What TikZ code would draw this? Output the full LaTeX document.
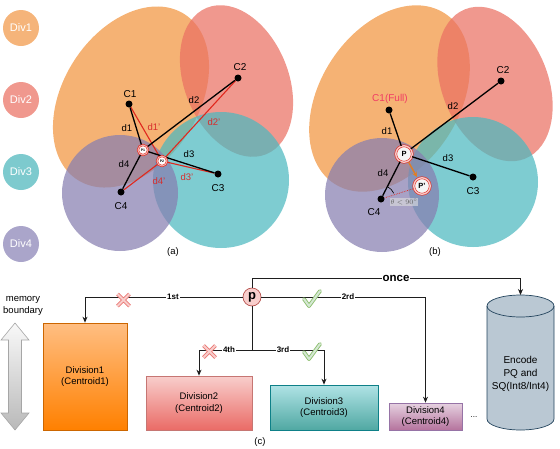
\documentclass[tikz,border=0pt]{standalone}
\usepackage{fontspec}
\setmainfont{Liberation Sans}
\usetikzlibrary{arrows.meta,calc}
\definecolor{orA}{RGB}{241,148,62}
\definecolor{rdA}{RGB}{234,112,98}
\definecolor{tlA}{RGB}{76,184,191}
\definecolor{puA}{RGB}{134,126,176}
\definecolor{leg1}{RGB}{245,180,122}
\definecolor{leg2}{RGB}{240,152,142}
\definecolor{leg3}{RGB}{125,202,206}
\definecolor{leg4}{RGB}{170,165,202}
\definecolor{lred}{RGB}{224,40,30}
\definecolor{lblred}{RGB}{215,45,45}
\definecolor{fullred}{RGB}{240,60,100}
\definecolor{porange}{RGB}{225,125,35}
\definecolor{pfill}{RGB}{248,206,204}
\definecolor{pdraw}{RGB}{184,84,80}
\definecolor{xfill}{RGB}{248,206,204}
\definecolor{xdraw}{RGB}{234,120,116}
\definecolor{vfill}{RGB}{213,232,212}
\definecolor{vdraw}{RGB}{140,190,110}
\definecolor{cylfill}{RGB}{186,200,211}
\definecolor{cyldraw}{RGB}{35,68,93}
\definecolor{conn}{RGB}{30,30,30}
\begin{document}
\begin{tikzpicture}[x=1pt,y=-1pt,
  blob/.style={fill opacity=0.72},
  dot/.style={circle,fill=black,inner sep=0pt,minimum size=7pt},
  lbl/.style={inner sep=0pt,font=\fontsize{9.5}{10}\selectfont},
  clbl/.style={inner sep=0pt,font=\fontsize{10}{11}\selectfont},
  rlbl/.style={lbl,text=lblred},
  leg/.style={circle,inner sep=0pt,minimum size=36pt,text=white,font=\fontsize{11}{12}\selectfont},
  blk/.style={line width=1.3pt,draw=black},
  redl/.style={line width=1.1pt,draw=lred},
  pmark/.style={circle,draw=lred,line width=0.5pt,double=white!65!lred,double distance=1pt,fill=white,inner sep=0pt,minimum size=10pt,font=\fontsize{3.5}{3.5}\selectfont\bfseries},
  pbig/.style={circle,draw=lred,line width=0.6pt,double=white!75!lred,double distance=1.4pt,fill=gray!8,inner sep=0pt,minimum size=16.5pt,font=\fontsize{7.5}{7.5}\selectfont\bfseries},
  conline/.style={draw=conn,line width=0.8pt},
  arr/.style={conline,-{Stealth[length=6pt,width=5pt]}},
  elab/.style={fill=white,inner sep=1pt,font=\fontsize{8}{9}\selectfont\bfseries},
  divbox/.style={draw,align=center,inner sep=1pt,font=\fontsize{9.5}{11.5}\selectfont,line width=0.7pt},
  xmark/.style={line width=3.8pt,draw=xdraw},
  xin/.style={line width=2pt,draw=xfill},
  vmark/.style={line width=3.8pt,draw=vdraw,line join=round,line cap=round},
  vin/.style={line width=2pt,draw=vfill,line join=round,line cap=round}
]
\useasboundingbox (0,0) rectangle (560,448);

% legend
\node[leg,fill=leg1] (leg1n) at (21,28) {Div1};
\node[leg,fill=leg2] (leg2n) at (21,100) {Div2};
\node[leg,fill=leg3] (leg3n) at (21,172) {Div3};
\node[leg,fill=leg4] (leg4n) at (21,244) {Div4};

% ---------- panel (a) ----------
\fill[orA,blob,rotate around={57:(131,97)}] (131,97) ellipse [x radius=98.6,y radius=67.5];
\fill[rdA,blob,rotate around={112:(236.5,81)}] (236.5,81) ellipse [x radius=79,y radius=52];
\fill[tlA,blob] (221,180) circle [radius=68];
\fill[puA,blob] (120,193) circle [radius=58];

\node[dot] (c1a) at (129,104) {};
\node[dot] (c2a) at (238,78) {};
\node[dot] (c3a) at (218,174) {};
\node[dot] (c4a) at (121,192) {};
\node[pmark] (p1a) at (143,150) {P1};
\node[pmark] (p2a) at (162,161) {P2};

\draw[redl] (c1a) -- (p2a);
\draw[redl] (p2a) -- (c2a);
\draw[redl] (p2a) -- (c3a);
\draw[redl] (p2a) -- (c4a);
\draw[blk] (c1a) -- (p1a);
\draw[blk] (p1a) -- (c2a);
\draw[blk] (p1a) -- (c3a);
\draw[blk] (p1a) -- (c4a);
\node[pmark] at (p1a) {P1};
\node[pmark] at (p2a) {P2};

\node[clbl] (c1al) at (130,94) {C1};
\node[clbl] (c2al) at (240,67) {C2};
\node[clbl] (c3al) at (218,188) {C3};
\node[clbl] (c4al) at (121,206) {C4};
\node[lbl] (d1a) at (127,128) {d1};
\node[lbl] (d2a) at (194,100) {d2};
\node[lbl] (d3a) at (189,154) {d3};
\node[lbl] (d4a) at (124,164) {d4};
\node[rlbl] (d1pa) at (154,127) {d1'};
\node[rlbl] (d2pa) at (214,122) {d2'};
\node[rlbl] (d3pa) at (187,177) {d3'};
\node[rlbl] (d4pa) at (159,181) {d4'};
\node[lbl] (capa) at (173,252) {(a)};

% ---------- panel (b) ----------
\fill[orA,blob,rotate around={57:(389.5,98.5)}] (389.5,98.5) ellipse [x radius=101.5,y radius=69.5];
\fill[rdA,blob,rotate around={112:(495,84)}] (495,84) ellipse [x radius=80.5,y radius=53];
\fill[tlA,blob] (473,182) circle [radius=65];
\fill[puA,blob] (382,195) circle [radius=57];

\node[dot] (c1b) at (389,110) {};
\node[dot] (c2b) at (501,81) {};
\node[dot] (c3b) at (473,177) {};
\node[dot] (c4b) at (381,199) {};
\node[pbig] (pb) at (404,154) {P};
\node[pbig] (ppb) at (422,186) {P'};

\draw[blk] (c1b) -- (pb);
\draw[blk] (pb) -- (c2b);
\draw[blk] (pb) -- (c3b);
\draw[blk] (pb) -- (c4b);
\draw[lred,densely dotted,line width=0.7pt] (c4b) -- (ppb);
\draw[line width=0.6pt] ($(c4b)+(-63:14)$) arc [start angle=-63,end angle=-24,radius=14];
\draw[porange,line width=1.4pt,-{Stealth[length=5pt,width=5pt]}] ($(pb)!9.5pt!(ppb)$) -- ($(ppb)!10.5pt!(pb)$);

\node[clbl,text=fullred] (c1bl) at (390,99) {C1(Full)};
\node[clbl] (c2bl) at (503,70) {C2};
\node[clbl] (c3bl) at (473,191) {C3};
\node[clbl] (c4bl) at (374,212) {C4};
\node[lbl] (d1b) at (387,131) {d1};
\node[lbl] (d2b) at (453,106) {d2};
\node[lbl] (d3b) at (448,158) {d3};
\node[lbl] (d4b) at (383,173) {d4};
\node[fill=gray!25,fill opacity=0.6,text opacity=1,text=gray!75!black,inner sep=1pt,font=\fontsize{7}{7}\selectfont] (theta) at (404,202) {$\theta<90^\circ$};
\node[lbl] (capb) at (435,252) {(b)};

% ---------- panel (c) ----------
\node[font=\fontsize{9.5}{12}\selectfont,align=center,inner sep=0pt] (mem) at (23,306) {memory\\boundary};
\shade[top color=gray!5,bottom color=gray!55,draw=gray!70,line width=0.6pt]
  (15,323) -- (29,340) -- (21.5,340) -- (21.5,413) -- (29,413) -- (15,430) -- (1,413) -- (8.5,413) -- (8.5,340) -- (1,340) -- cycle;

\node[divbox,draw=orange!80!black,top color={rgb,255:red,255;green,190;blue,130},bottom color={rgb,255:red,255;green,128;blue,0},minimum width=84pt,minimum height=107pt] (div1) at (85,376.5) {Division1\\(Centroid1)};
\node[divbox,draw=pdraw!80,top color={rgb,255:red,248;green,206;blue,204},bottom color={rgb,255:red,234;green,107;blue,102},minimum width=106pt,minimum height=54pt] (div2) at (199,403) {Division2\\(Centroid2)};
\node[divbox,draw={rgb,255:red,14;green,128;blue,136},top color={rgb,255:red,176;green,227;blue,230},bottom color={rgb,255:red,80;green,168;blue,162},minimum width=108pt,minimum height=45pt] (div3) at (324,407.5) {Division3\\(Centroid3)};
\node[divbox,draw={rgb,255:red,150;green,115;blue,166},top color={rgb,255:red,230;green,210;blue,225},bottom color={rgb,255:red,181;green,115;blue,157},minimum width=73pt,minimum height=27pt,font=\fontsize{9.5}{10.5}\selectfont] (div4) at (425.5,416.5) {Division4\\(Centroid4)};
\node[font=\fontsize{8}{8}\selectfont] (dots) at (474,417) {...};

% cylinder
\filldraw[fill=cylfill,draw=cyldraw,line width=0.7pt] (487,306) -- (487,419) arc [start angle=180,end angle=0,x radius=33.5,y radius=11] -- (554,306) arc [start angle=0,end angle=-180,x radius=33.5,y radius=11] -- cycle;
\draw[cyldraw,line width=0.7pt] (487,306) arc [start angle=180,end angle=0,x radius=33.5,y radius=11];
\node[align=center,font=\fontsize{10}{13}\selectfont,inner sep=0pt] (enc) at (520.5,374) {Encode\\PQ and\\SQ(Int8/Int4)};
\coordinate (enctop) at (520.5,295);
\coordinate (oncey) at (520.5,278);
\coordinate (split) at (252,350);

\node[circle,fill=pfill,draw=pdraw,line width=0.7pt,minimum size=18pt,inner sep=0pt,font=\fontsize{13}{13}\selectfont\bfseries] (p) at (252,297) {p};

\draw[arr] (p.north) |- (oncey) -- (enctop);
\draw[arr] (p.west) -| (div1.north);
\draw[arr] (p.east) -| (div4.north);
\draw[conline] (p.south) -- (split);
\draw[arr] (split) -| (div2.north);
\draw[arr] (split) -| (div3.north);

\node[elab,font=\fontsize{11.5}{12}\selectfont\bfseries] (oncel) at (396,278) {once};
\node[elab] (l1) at (173,297) {1st};
\node[elab] (l2) at (348,297) {2rd};
\node[elab] (l4) at (229,350) {4th};
\node[elab] (l3) at (283,350) {3rd};

% X marks
\draw[xmark] (117.5,294) -- (129.5,306) (117.5,306) -- (129.5,294);
\draw[xin] (117.5,294) -- (129.5,306) (117.5,306) -- (129.5,294);
\draw[xmark] (203.5,345.5) -- (215.5,357.5) (203.5,357.5) -- (215.5,345.5);
\draw[xin] (203.5,345.5) -- (215.5,357.5) (203.5,357.5) -- (215.5,345.5);
% check marks
\draw[vmark] (304,299) -- (309,306) -- (320,291);
\draw[vin] (304,299) -- (309,306) -- (320,291);
\draw[vmark] (304,352) -- (309,359) -- (320,344);
\draw[vin] (304,352) -- (309,359) -- (320,344);

\node[lbl] (capc) at (260,442) {(c)};
\end{tikzpicture}
\end{document}
